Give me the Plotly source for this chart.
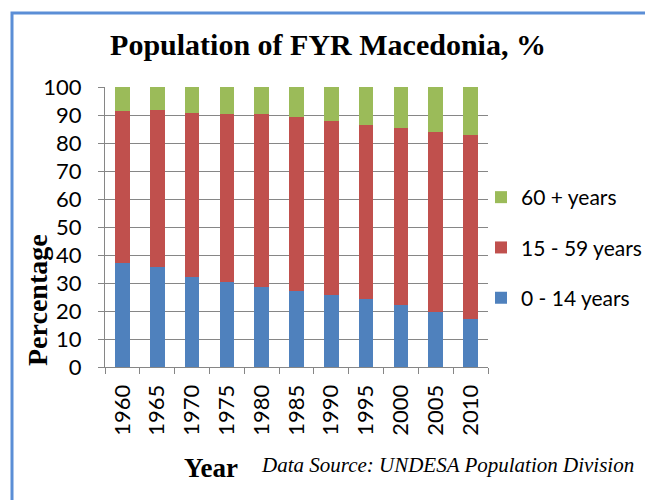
import plotly.graph_objects as go

years = ["1960", "1965", "1970", "1975", "1980", "1985", "1990", "1995", "2000", "2005", "2010"]
age_0_14 = [37.0, 35.6, 32.2, 30.4, 28.4, 27.0, 25.8, 24.3, 22.0, 19.6, 17.3]
age_15_59 = [54.6, 56.3, 58.5, 59.8, 62.0, 62.4, 62.2, 62.1, 63.2, 64.5, 65.7]
age_60_plus = [8.4, 8.1, 9.3, 9.8, 9.6, 10.6, 12.0, 13.6, 14.8, 15.9, 17.0]

series = [
    ("0 - 14 years", age_0_14, "#4F81BD", 3),
    ("15 - 59 years", age_15_59, "#C0504D", 2),
    ("60 + years", age_60_plus, "#9BBB59", 1),
]

fig = go.Figure()
for i, (name, vals, col, rank) in enumerate(series):
    fig.add_trace(go.Bar(x=years, y=vals, name=name, marker_color=col,
                         marker_line_width=0, legendgroup=f"g{i}", legendrank=rank))

# plot area in pixels: left 105, right 488, top 87, bottom 367
L, R, T, B = 105, 488, 87, 367
W, H = 645, 500
pw, ph = R - L, B - T

def px(x):
    return (x - L) / pw

def py(y):
    return (B - y) / ph

serif = "Liberation Serif"
sans = "Lato"

fig.update_layout(
    width=W, height=H,
    margin=dict(l=L, r=W - R, t=T, b=H - B, pad=0, autoexpand=False),
    barmode="stack",
    bargap=0.58,
    plot_bgcolor="white",
    paper_bgcolor="white",
    title=dict(text="<b>Population of FYR Macedonia, %</b>",
               font=dict(family=serif, size=30, color="black"),
               x=328 / W, xanchor="center", y=1 - 44 / H, yanchor="middle"),
    legend=dict(x=px(481), y=py(177), xanchor="left", yanchor="top",
                traceorder="grouped", tracegroupgap=20, itemwidth=30,
                font=dict(family=sans, size=21, color="black"),
                bgcolor="rgba(0,0,0,0)"),
    xaxis=dict(type="category", tickson="boundaries", ticks="outside", ticklen=6,
               tickcolor="#868686", showline=True, linecolor="#868686", linewidth=1,
               showgrid=False, tickangle=-90, ticklabelstandoff=8, automargin=False,
               tickfont=dict(family=sans, size=22, color="black")),
    yaxis=dict(range=[0, 100], dtick=10, ticks="outside", ticklen=6,
               tickcolor="#868686", showline=True, linecolor="#868686", linewidth=1,
               showgrid=True, gridcolor="#868686", gridwidth=1, automargin=False,
               tickfont=dict(family=sans, size=22, color="black"),
               ticklabelstandoff=12),
    showlegend=True,
)

fig.add_annotation(text="<b>Percentage</b>", x=px(37), y=py(300), xref="paper", yref="paper",
                   textangle=-90, showarrow=False, xanchor="center", yanchor="middle",
                   font=dict(family=serif, size=28, color="black"))
fig.add_annotation(text="<b>Year</b>", x=px(211), y=py(468), xref="paper", yref="paper",
                   showarrow=False, xanchor="center", yanchor="middle",
                   font=dict(family=serif, size=27, color="black"))
fig.add_annotation(text="<i>Data Source: UNDESA Population Division</i>", x=px(636), y=py(465),
                   xref="paper", yref="paper", showarrow=False, xanchor="right", yanchor="middle",
                   font=dict(family=serif, size=21, color="black"))

# chart border (blue frame, partially visible)
fig.add_shape(type="path", xref="paper", yref="paper",
              path=f"M {px(12)} {py(520)} L {px(12)} {py(13)} L {px(680)} {py(13)}",
              line=dict(color="#5B8ED6", width=3), layer="above")

fig.write_html("out.html", config={"displayModeBar": False},
               post_script="document.body.style.margin='0';")
